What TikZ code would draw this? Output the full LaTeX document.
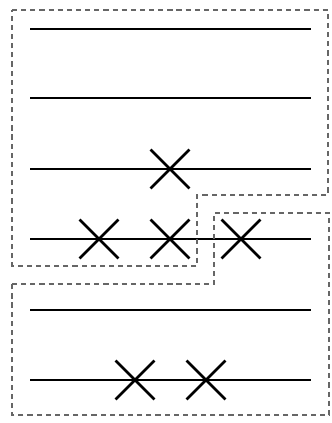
\documentclass[tikz,border=0pt]{standalone}
\usepackage{tikz}
\usetikzlibrary{shapes.misc}

\begin{document}
\begin{tikzpicture}[
			x=0.03cm, y=-0.03cm,
			wire/.style={line width=1.3pt},
			xmark/.style={draw, cross out, line width=2.4pt, minimum size=1.08cm, inner sep=0pt},
			group/.style={draw=black!60, line width=0.95pt, dash pattern=on 4.4pt off 3.4pt},
			]
			\useasboundingbox (0,0) rectangle (331,423);

			% Wire ends
			\coordinate (w1a) at (30,29);  \coordinate (w1b) at (311,29);
			\coordinate (w2a) at (30,98);  \coordinate (w2b) at (311,98);
			\coordinate (w3a) at (30,169); \coordinate (w3b) at (311,169);
			\coordinate (w4a) at (30,239); \coordinate (w4b) at (311,239);
			\coordinate (w5a) at (30,310); \coordinate (w5b) at (311,310);
			\coordinate (w6a) at (30,380); \coordinate (w6b) at (311,380);

			% Wires
			\draw[wire] (w1a) -- (w1b);
			\draw[wire] (w2a) -- (w2b);
			\draw[wire] (w3a) -- (w3b);
			\draw[wire] (w4a) -- (w4b);
			\draw[wire] (w5a) -- (w5b);
			\draw[wire] (w6a) -- (w6b);

			% Marks
			\node[xmark] (m31) at (170,169) {};
			\node[xmark] (m41) at (99,239) {};
			\node[xmark] (m42) at (170,239) {};
			\node[xmark] (m43) at (241,239) {};
			\node[xmark] (m61) at (135,380) {};
			\node[xmark] (m62) at (206,380) {};

			% Upper group
			\draw[group] (12,10) -- (328,10) -- (328,195) -- (197,195)
			-- (197,266) -- (12,266) -- cycle;

			% Lower group
			\draw[group] (12,284) -- (214,284) -- (214,213) -- (329,213)
			-- (329,415) -- (12,415) -- cycle;
		\end{tikzpicture}
\end{document}
